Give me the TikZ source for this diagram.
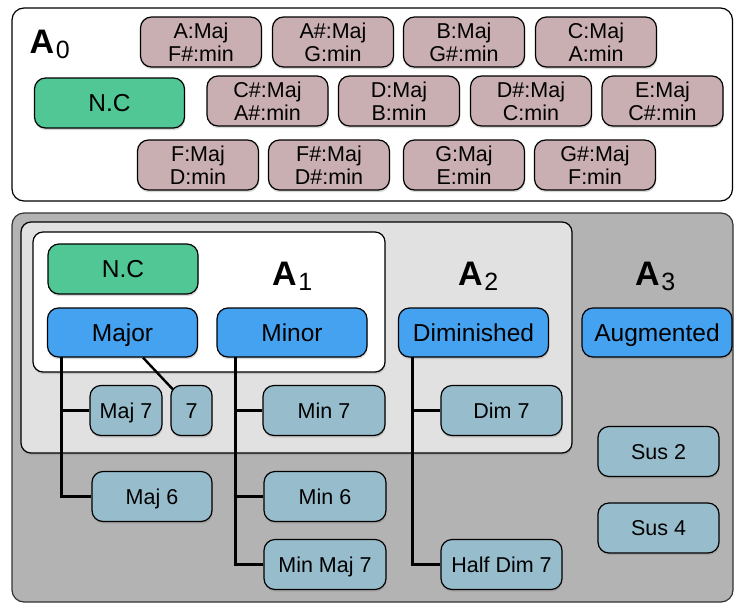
\documentclass[tikz,border=0pt]{standalone}
\usepackage{fontspec}
\setmainfont{Liberation Sans}
\usetikzlibrary{shadows,calc}
\definecolor{chordc}{HTML}{C9AEB2}
\definecolor{ncg}{HTML}{50C795}
\definecolor{blu}{HTML}{45A2F0}
\definecolor{extc}{HTML}{97BDCC}
\definecolor{lgray}{HTML}{E1E1E1}
\definecolor{dgray}{HTML}{B3B3B3}
\newcommand\alabel[1]{{\fontsize{34}{34}\selectfont\bfseries A}\kern1.5pt\raisebox{-5pt}{\fontsize{25}{25}\selectfont #1}}
\begin{document}
\begin{tikzpicture}[x=1pt,y=-1pt,
  shad/.style={drop shadow={shadow xshift=0.6pt, shadow yshift=-2.2pt, opacity=0.3}},
  box/.style={draw=black, line width=1.2pt, rounded corners=11pt, inner sep=0pt, align=center, shad, minimum height=50pt},
  chord/.style={box, fill=chordc, minimum width=121pt, font=\fontsize{21.5}{23}\selectfont},
  ncbox/.style={box, text height=17.6pt, text depth=0pt, fill=ncg, minimum width=150pt, font=\fontsize{24.5}{26}\selectfont},
  mainbox/.style={box, text height=17.6pt, text depth=0pt, fill=blu, minimum width=150pt, minimum height=49pt, font=\fontsize{24.5}{26}\selectfont},
  extbox/.style={box, text height=15.4pt, text depth=0pt, fill=extc, font=\fontsize{21.5}{23}\selectfont},
  albl/.style={anchor=base west, inner sep=0pt},
  conn/.style={line width=3pt, line join=miter},
  thinconn/.style={line width=2.4pt}
]
\useasboundingbox (0,0) rectangle (734,603);
% containers
\draw[line width=1.2pt, fill=white, rounded corners=12pt] (12,8) rectangle (732.5,201);
\draw[line width=1.2pt, draw=black!80, fill=dgray, rounded corners=12pt] (12,213) rectangle (733,602);
\draw[line width=1.2pt, fill=lgray, rounded corners=10pt, shad] (21,222) rectangle (572,453);
\draw[line width=1.2pt, fill=white, rounded corners=10pt, shad] (33,232) rectangle (385,372);

% A0
\node[albl] (a0) at (29.5,53.5) {\alabel{0}};
\node[chord] (c1) at (201,42) {A:Maj\\F\#:min};
\node[chord] (c2) at (333,42) {A\#:Maj\\G:min};
\node[chord] (c3) at (464,42) {B:Maj\\G\#:min};
\node[chord] (c4) at (596,42) {C:Maj\\A:min};
\node[ncbox] (nc0) at (109.5,103) {N.C};
\node[chord] (c5) at (267.5,101) {C\#:Maj\\A\#:min};
\node[chord] (c6) at (399,101) {D:Maj\\B:min};
\node[chord] (c7) at (531,101) {D\#:Maj\\C:min};
\node[chord] (c8) at (662.5,101) {E:Maj\\C\#:min};
\node[chord] (c9) at (198,165) {F:Maj\\D:min};
\node[chord] (c10) at (329,165) {F\#:Maj\\D\#:min};
\node[chord] (c11) at (464,165) {G:Maj\\E:min};
\node[chord] (c12) at (595,165) {G\#:Maj\\F:min};

% labels
\node[albl] (a1) at (272,285) {\alabel{1}};
\node[albl] (a2) at (458,285) {\alabel{2}};
\node[albl] (a3) at (635,285) {\alabel{3}};

% A1 / A2 / A3 main boxes
\node[ncbox] (nc1) at (123,269) {N.C};
\node[mainbox] (maj) at (122.5,332.5) {Major};
\node[mainbox] (min) at (292,332.5) {Minor};
\node[mainbox] (dim) at (473.5,332.5) {Diminished};
\node[mainbox] (aug) at (657,332.5) {Augmented};

% extensions
\node[extbox, minimum width=72pt] (maj7) at (126,410.5) {Maj 7};
\node[extbox, minimum width=41pt, rounded corners=10pt] (dom7) at (191.5,410.5) {7};
\node[extbox, minimum width=122pt] (min7) at (324,410.5) {Min 7};
\node[extbox, minimum width=121pt] (dim7) at (501.5,410.5) {Dim 7};
\node[extbox, minimum width=121pt] (sus2) at (658.5,451.5) {Sus 2};
\node[extbox, minimum width=121pt] (sus4) at (658.5,528) {Sus 4};
\node[extbox, minimum width=120pt] (maj6) at (152,496.5) {Maj 6};
\node[extbox, minimum width=122pt] (min6) at (325,496.5) {Min 6};
\node[extbox, minimum width=122pt] (minmaj7) at (325,564.5) {Min Maj 7};
\node[extbox, minimum width=121pt] (hdim7) at (501.5,564.5) {Half Dim 7};

% connectors
\coordinate (mt) at (61.5,357);
\coordinate (nt) at (235.5,357);
\coordinate (dt) at (412.5,357);
\draw[conn] (mt) |- (maj6.west);
\draw[conn] (maj7.west) -- (maj7.west -| mt);
\draw[conn] (nt) |- (minmaj7.west);
\draw[conn] (min7.west) -- (min7.west -| nt);
\draw[conn] (min6.west) -- (min6.west -| nt);
\draw[conn] (dt) |- (hdim7.west);
\draw[conn] (dim7.west) -- (dim7.west -| dt);
\draw[thinconn] ($(maj.south)+(20.5,0)$) -- ($(dom7.north west)+(2.5,4.5)$);
\end{tikzpicture}
\end{document}
